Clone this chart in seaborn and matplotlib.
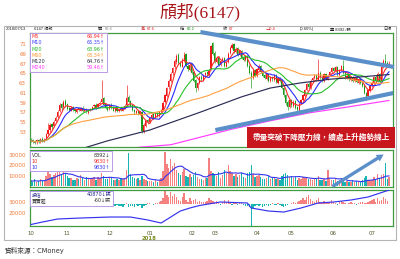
import numpy as np
import pandas as pd
import matplotlib
matplotlib.use('Agg')
import matplotlib.pyplot as plt
import seaborn as sns
from matplotlib.patches import Rectangle

sns.set_theme(style='white')
plt.rcParams['font.family'] = ['DejaVu Sans', 'Noto Sans CJK TC']

# ---------------- data ----------------
month_labels = ["10", "11", "12", "01", "02", "03", "04", "05", "06", "07"]
month_days = [19, 22, 21, 22, 12, 22, 18, 22, 20, 10]

open_ = [
    51.5, 51.3, 51.2, 50.9, 51.4, 51.0, 51.6, 51.1, 51.5, 52.6, 53.4, 54.6, 54.2, 55.2, 56.0, 57.2, 58.7, 58.2, 59.4,
    58.7, 57.9, 57.4, 58.1, 57.7, 57.1, 57.9, 57.4, 58.0, 57.2, 57.7, 56.9, 57.4, 57.7, 58.3, 58.6, 58.1, 58.7, 59.2, 59.9, 58.7, 58.2,
    57.7, 58.6, 58.1, 57.3, 57.9, 57.3, 57.7, 57.4, 57.9, 58.5, 60.2, 59.3, 58.5, 57.6, 56.9, 57.4, 56.7, 57.0, 53.0, 54.3, 55.4,
    55.1, 55.9, 56.6, 56.0, 56.9, 56.3, 57.1, 57.6, 59.1, 60.3, 62.2, 63.4, 65.0, 66.2, 67.3, 68.8, 67.4, 66.4, 67.6, 68.9, 66.6, 65.7,
    66.9, 65.2, 63.7, 62.1, 63.1, 64.3, 63.7, 64.6, 65.2, 64.7, 65.8, 71.2,
    69.2, 67.4, 68.4, 66.7, 67.6, 68.1, 66.4, 67.3, 69.2, 70.1, 70.9, 69.3, 70.1, 68.7, 69.6, 68.4, 67.7, 68.6, 66.6, 65.1, 64.0, 65.6,
    64.4, 65.7, 66.6, 65.3, 64.6, 63.9, 64.9, 63.4, 64.3, 63.7, 64.6, 63.1, 64.1, 63.6, 62.1, 60.6, 59.2, 58.1,
    59.6, 58.4, 59.3, 58.1, 57.4, 58.9, 59.6, 60.4, 61.6, 62.9, 62.1, 63.6, 64.1, 64.6, 63.7, 65.1, 64.3, 63.4, 64.9, 63.9, 64.6, 65.3,
    66.1, 65.4, 66.3, 64.7, 65.6, 66.6, 65.1, 64.1, 64.6, 63.7, 64.3, 63.4, 64.1, 63.1, 63.9, 63.1, 62.6, 60.9, 60.3, 61.4,
    62.6, 63.1, 64.3, 63.4, 64.9, 63.4, 66.3, 67.6, 67.1, 66.6,
]
close = [
    51.2, 51.0, 50.8, 51.3, 51.0, 51.5, 51.2, 51.4, 52.5, 53.5, 54.5, 54.0, 55.0, 55.8, 57.0, 58.5, 58.0, 59.2, 58.5,
    57.8, 57.5, 58.0, 57.6, 57.2, 57.8, 57.5, 57.9, 57.3, 57.6, 57.0, 57.5, 57.8, 58.2, 58.5, 58.0, 58.8, 59.0, 59.8, 58.6, 58.0, 57.6,
    58.5, 58.0, 57.4, 57.8, 57.2, 57.6, 57.5, 58.0, 58.4, 60.0, 59.2, 58.4, 57.5, 57.0, 57.3, 56.8, 57.2, 53.2, 54.5, 55.2, 55.0,
    55.8, 56.5, 55.9, 56.8, 56.2, 57.0, 57.5, 59.0, 60.5, 62.0, 63.5, 64.8, 66.0, 67.5, 68.5, 67.2, 66.5, 67.8, 68.8, 66.5, 65.8, 66.8,
    65.0, 63.5, 62.0, 63.0, 64.2, 63.8, 64.5, 65.0, 64.8, 65.5, 70.5, 69.0,
    67.5, 68.2, 66.8, 67.5, 68.0, 66.5, 67.2, 69.0, 70.2, 70.8, 69.5, 70.0, 68.8, 69.5, 68.2, 67.8, 68.5, 66.5, 65.0, 64.2, 65.5, 64.5,
    65.8, 66.5, 65.2, 64.5, 64.0, 64.8, 63.5, 64.2, 63.8, 64.5, 63.2, 64.0, 63.5, 62.0, 60.5, 59.0, 58.2, 59.5,
    58.5, 59.2, 58.0, 57.5, 58.8, 59.5, 60.5, 61.5, 62.8, 62.2, 63.5, 64.0, 64.5, 63.8, 65.0, 64.2, 63.5, 64.8, 64.0, 64.5, 65.2, 66.0,
    65.5, 66.2, 64.8, 65.5, 66.5, 65.0, 64.2, 64.5, 63.8, 64.2, 63.5, 64.0, 63.2, 63.8, 63.0, 62.5, 61.0, 60.2, 61.5, 62.5,
    63.0, 64.2, 63.5, 64.8, 63.3, 66.2, 67.5, 67.2, 66.8, 67.0,
]
high = [
    51.8, 51.6, 51.4, 51.6, 51.6, 51.8, 51.9, 51.7, 52.8, 54.8, 54.9, 54.9, 55.4, 56.2, 57.5, 59.0, 59.0, 59.6, 59.8,
    58.9, 58.2, 58.3, 58.4, 57.9, 58.0, 58.1, 58.1, 58.3, 57.9, 57.9, 57.7, 58.0, 58.4, 58.8, 58.9, 59.0, 59.3, 63.6, 60.1, 58.9, 58.4,
    58.8, 58.9, 58.3, 58.0, 58.1, 57.8, 57.9, 58.2, 58.7, 62.6, 60.5, 59.5, 58.7, 57.8, 57.5, 57.6, 57.4, 57.3, 54.8, 55.5, 55.7,
    56.0, 56.8, 56.8, 57.0, 57.1, 57.2, 57.7, 59.3, 60.8, 62.3, 63.8, 65.2, 66.4, 67.9, 69.0, 69.2, 67.6, 68.1, 69.4, 69.1, 66.9, 67.2,
    67.1, 65.5, 63.9, 63.3, 64.5, 64.6, 64.8, 65.3, 65.5, 65.8, 70.8, 71.5,
    69.5, 68.5, 68.6, 67.8, 68.3, 68.3, 67.5, 69.3, 70.6, 71.3, 71.2, 70.3, 70.4, 69.8, 69.8, 68.6, 68.8, 68.8, 66.9, 65.4, 65.8, 65.9,
    66.1, 66.9, 66.8, 65.5, 64.8, 65.1, 65.1, 64.4, 64.5, 64.8, 64.8, 64.3, 64.3, 63.8, 62.3, 60.8, 59.5, 59.8,
    59.8, 59.5, 59.5, 58.3, 59.1, 59.8, 60.8, 61.8, 63.1, 63.2, 63.8, 64.3, 64.8, 64.9, 68.0, 65.4, 64.5, 65.1, 65.1, 64.8, 65.5, 66.3,
    66.4, 66.5, 66.5, 65.8, 66.8, 67.7, 65.3, 64.8, 64.8, 64.5, 64.5, 64.2, 64.3, 64.0, 64.1, 63.3, 62.8, 61.2, 61.8, 62.8,
    63.4, 64.5, 64.6, 65.2, 65.1, 66.5, 68.0, 69.0, 67.5, 67.6,
]
low = [
    50.9, 50.7, 50.5, 50.6, 50.7, 50.8, 51.0, 50.9, 51.3, 52.3, 53.1, 53.6, 54.0, 55.0, 55.8, 57.0, 57.6, 58.0, 58.2,
    57.5, 57.2, 57.2, 57.4, 56.9, 56.9, 57.3, 57.2, 57.1, 57.0, 56.8, 56.6, 57.2, 57.5, 58.0, 57.8, 57.9, 58.5, 59.0, 58.4, 57.8, 57.3,
    57.5, 57.8, 57.2, 57.1, 57.0, 57.1, 57.3, 57.2, 57.7, 58.3, 59.0, 58.2, 57.3, 56.7, 56.7, 56.5, 56.5, 52.8, 52.8, 54.1, 54.7,
    54.9, 55.7, 55.7, 55.8, 56.0, 56.1, 56.9, 57.4, 58.9, 60.1, 61.9, 63.2, 64.7, 65.9, 67.0, 67.0, 66.2, 66.2, 67.4, 66.2, 65.4, 65.5,
    64.8, 63.2, 61.2, 61.6, 62.8, 63.4, 63.5, 64.3, 64.5, 64.5, 65.6, 68.7,
    67.2, 67.2, 66.5, 66.5, 67.4, 66.2, 66.2, 67.1, 69.0, 69.9, 69.2, 69.1, 68.5, 68.5, 68.0, 67.5, 67.5, 66.3, 64.8, 62.0, 63.8, 64.2,
    64.2, 65.5, 65.0, 64.2, 63.8, 63.7, 63.3, 63.2, 63.5, 63.5, 63.0, 62.9, 63.3, 61.8, 60.2, 58.6, 57.5, 57.9,
    58.2, 58.2, 57.8, 57.0, 57.2, 58.7, 59.4, 60.2, 61.4, 61.9, 61.9, 63.4, 63.9, 63.5, 63.5, 63.9, 63.2, 63.2, 63.8, 63.7, 64.4, 65.0,
    65.2, 65.2, 64.5, 64.4, 65.4, 64.8, 63.9, 63.9, 63.5, 63.5, 63.2, 63.2, 63.0, 62.9, 62.8, 62.2, 60.7, 59.6, 60.0, 61.2,
    62.3, 62.9, 63.2, 63.3, 63.0, 63.2, 66.0, 66.8, 66.5, 66.2,
]
volume = [
    5200, 4100, 6300, 3800, 4500, 7200, 5100, 4800, 9500, 13500, 12000, 8500, 11000, 12500, 14500, 13800, 11200, 14000, 12500,
    9500, 8200, 7600, 6100, 5800, 7400, 6900, 10500, 7300, 5900, 8800, 6500, 7100, 7800, 9200, 6200, 8400, 7600, 12800, 9400, 7200, 6800,
    8900, 7500, 6200, 5400, 6800, 5900, 7300, 6400, 8200, 15500, 32000, 11200, 8800, 7400, 6300, 7900, 6100, 9800, 7200, 5600, 4800,
    5200, 4600, 3900, 5400, 4200, 6100, 7800, 14500, 33000, 21000, 17500, 26500, 19000, 22500, 15500, 12800, 10200, 13500, 16200, 9800, 8600, 11400,
    9200, 10800, 13600, 8400, 7200, 6600, 5800, 7400, 8200, 27000, 14800, 12500,
    11800, 9600, 13200, 8200, 10400, 15800, 12200, 20000, 14200, 12600, 9800, 11500, 8900, 10200, 12400, 8600, 7800, 12200, 13600, 20000, 11400, 8800,
    9600, 10800, 8400, 7200, 6800, 8200, 9400, 6600, 7400, 8800, 7200, 6400, 5800, 9600, 11200, 12400, 10800, 8600,
    9400, 7600, 8800, 6200, 7400, 6800, 9200, 7800, 8600, 6400, 7200, 5800, 6600, 7400, 9800, 6200, 5400, 6800, 5200, 15500, 7400, 6200,
    5800, 6400, 4800, 5200, 7800, 4600, 3800, 4400, 3600, 4200, 5400, 3800, 4600, 3400, 4200, 5600, 7800, 9400, 6200, 5800,
    6200, 8400, 6000, 11500, 7600, 10200, 11400, 22000, 6700, 8392,
]
trust_net = [
    120, -80, 60, 150, -50, 90, 200, -120, 180, 260, 150, -90, 210, 300, 180, -60, 240, 120, -150,
    80, -120, 60, -90, 40, 110, -70, 150, -60, 90, -110, 50, 70, 120, 200, -80, 90, 150, 220, -140, -90, 60,
    -120, 80, -250, -400, -180, -520, -350, -600, -280, 150, -700, -450, -320, -560, -240, -380, -150, -900, -420, -200, 120,
    180, 90, -150, 220, 160, 350, 600, 1300, 2800, 1900, 1500, 2600, 1800, 2200, 1400, 900, 700, 1600, 2400, 800, 500, 1200,
    650, 900, 1100, 400, 600, 350, 500, 450, 700, 1300, 800, 600,
    400, 550, 300, -200, 350, 800, 450, 900, 300, -250, 200, 380, -300, 150, 260, -180, -350, -420, -600, -4800, -800, -500,
    -300, -450, -200, -600, -350, -150, -400, -250, 120, -300, -200, 180, -150, -500, -700, -400, -250, 100,
    200, 350, 150, 420, 600, 900, 1200, 800, 1500, 1900, 1100, 700, 500, 800, 1300, 400, 250, 600, 350, 200, 450, 800,
    500, 300, -150, 400, 700, 350, 200, -100, 250, 400, 150, 300, -200, 180, 350, 500, 250, 150, 400, 600,
    800, 1100, 500, 1200, 700, 900, 1400, 1000, 600, -60,
]
# holdings line (sampled read points): trading-day index and value
hold_idx = [0, 6, 14, 26, 41, 52, 61, 68, 73, 78, 83, 88, 99, 113, 115, 124, 132, 141, 150, 158, 167, 176, 187]
hold_val = [9550, 11800, 14550, 15450, 16350, 16350, 13650, 10900, 16350, 21800, 24550, 26800, 30000,
            29100, 24550, 21800, 20900, 24550, 29100, 30000, 31800, 34550, 40870]
ma120_idx = [0, 20, 40, 62, 88, 110, 125, 140, 156, 170, 187]
ma120_val = [46.5, 48.8, 51.2, 53.4, 57.0, 60.2, 62.0, 63.0, 63.8, 64.2, 64.76]
ma240_idx = [40, 57, 73, 87, 105, 125, 145, 165, 187]
ma240_val = [49.0, 49.9, 50.4, 51.8, 53.6, 55.3, 56.9, 58.1, 59.46]
# trend lines (day index, price) endpoints
trend_up = ([88.5, 189.5], [73.45, 66.3])
trend_dn = ([96.3, 189.5], [53.4, 61.0])

# ---------------- derived ----------------
n = len(close)
df = pd.DataFrame({'i': np.arange(n), 'o': open_, 'h': high, 'l': low, 'c': close, 'v': volume, 'net': trust_net})
for w in (5, 10, 20, 60):
    df[f'ma{w}'] = df['c'].rolling(w, min_periods=1).mean()
df['vma'] = df['v'].rolling(10, min_periods=1).mean()
month_idx = list(np.cumsum([0] + month_days[:-1]))

W, H = 400, 259
fig = plt.figure(figsize=(4, 2.59), dpi=100)
fig.patch.set_facecolor('white')

def ax_px(x0, y0, x1, y1):
    return fig.add_axes([x0 / W, 1 - y1 / H, (x1 - x0) / W, (y1 - y0) / H])

def fx(x):
    return x / W

def fy(y):
    return 1 - y / H

GREEN = '#3f9c3f'
UP, DN = '#f01818', '#1c9a1c'
ORANGE_T = '#f07a3a'
XL = (-0.7, 189.0)

def style(ax):
    ax.set_facecolor('white')
    for s in ax.spines.values():
        s.set_color(GREEN)
        s.set_linewidth(0.9)
    ax.set_xlim(*XL)
    ax.set_xticks([])
    ax.tick_params(axis='y', length=0, pad=2.5, labelsize=3.9, labelcolor=ORANGE_T)
    ax.grid(False)

# ---- main price panel ----
ax = ax_px(29.5, 33, 393, 147)
style(ax)
ax.set_ylim(49.94, 73.25)
ax.set_yticks(list(range(53, 72, 2)))
cols = np.where(df['c'] >= df['o'], UP, DN)
ax.vlines(df['i'], df['l'], df['h'], colors=cols, lw=0.45, zorder=2)
ax.bar(df['i'], np.maximum((df['c'] - df['o']).abs(), 0.08), bottom=np.minimum(df['o'], df['c']),
       width=0.62, color=cols, linewidth=0, zorder=2)
ma_cols = {'ma5': '#ff2a2a', 'ma10': '#2a2aff', 'ma20': '#28c028', 'ma60': '#ffa040'}
for k, cc in ma_cols.items():
    sns.lineplot(x=df['i'], y=df[k], ax=ax, color=cc, lw=0.8, legend=False, zorder=3)
sns.lineplot(x=ma120_idx, y=ma120_val, ax=ax, color='#2b2b55', lw=0.85, legend=False, zorder=3)
sns.lineplot(x=ma240_idx, y=ma240_val, ax=ax, color='#ff3cff', lw=0.85, legend=False, zorder=3)
ax.set_xlabel('')
ax.set_ylabel('')
ax.plot(*trend_up, color='#5b8fc9', lw=3.0, solid_capstyle='butt', zorder=4, clip_on=False)
ax.plot(*trend_dn, color='#5b8fc9', lw=3.0, solid_capstyle='butt', zorder=4)

# ---- volume panel ----
ax2 = ax_px(29.5, 150, 393, 187)
style(ax2)
ax2.set_ylim(-1000, 35000)
ax2.set_yticks([10000, 20000, 30000])
vcols = np.where(df['c'] >= df['o'], '#f58080', '#18b4b4')
ax2.bar(df['i'], df['v'], width=0.72, color=vcols, linewidth=0)
sns.lineplot(x=df['i'], y=df['vma'], ax=ax2, color='#3434f0', lw=0.8, legend=False)
ax2.set_xlabel('')
ax2.set_ylabel('')

# ---- institutional panel ----
ax3 = ax_px(29.5, 190, 393, 226)
style(ax3)
ax3.set_ylim(-4700, 3000)
ax3.set_yticks([])
ncols = np.where(df['net'] >= 0, '#f58080', '#18b4b4')
ax3.bar(df['i'], df['net'], width=0.72, color=ncols, linewidth=0)
ax3b = ax3.twinx()
ax3b.set_ylim(8200, 40900)
ax3b.set_xlim(*XL)
sns.lineplot(x=hold_idx, y=hold_val, ax=ax3b, color='#3434f0', lw=0.85, legend=False)
ax3b.set_ylabel('')
ax3b.set_yticks([20000, 30000])
ax3b.yaxis.set_ticks_position('left')
ax3b.yaxis.set_label_position('left')
ax3b.tick_params(axis='y', length=0, pad=2.5, labelsize=3.9, labelcolor=ORANGE_T)
for s in ax3b.spines.values():
    s.set_visible(False)
ax3b.grid(False)
ax3.set_xticks(month_idx)
ax3.set_xticklabels(month_labels)
ax3.tick_params(axis='x', length=2, width=0.5, color='#666666', pad=1.6, labelsize=3.9, labelcolor='#4e5a2c')
ax3.set_xlabel('')
fig.text(fx(31 + 1.91 * 62), fy(238), '2018', fontsize=3.9, color='#7a8c24', ha='center', va='center', weight='bold')

# ---- outer frame ----
fig.patches.append(Rectangle((fx(4), fy(240)), fx(392), 214 / H, transform=fig.transFigure,
                             fill=False, edgecolor='#b4b4b4', lw=0.8, zorder=1))

# ---- title and source ----
fig.text(0.5, fy(12), '頎邦(6147)', fontsize=12.5, color='#a8161c', ha='center', va='center',
         family=['Liberation Serif', 'Noto Sans CJK TC'])
fig.text(fx(5), fy(250.5), '資料來源：CMoney', fontsize=4.8, color='#333333', ha='left', va='center')

# ---- header row ----
hy = fy(29.4)
hs = 3.0
hfam = ['Liberation Sans', 'Noto Sans CJK TC']
header = [
    (6, '2018/07/13', '#222222'), (34, '6147 頎邦', '#222222'),
    (98, '開', '#222222'), (105, '66.6', '#888888'),
    (141, '高', '#d02020'), (147, '67.6', '#e02020'),
    (180, '低', '#222222'), (187, '66.2', '#109010'),
    (223, '收', '#222222'), (229, '67', '#e02020'),
    (266, '△0.4', '#e02020'), (300, '(0.60%)', '#222222'),
    (330, '量 8392↓張', '#222222'), (383, '日線', '#222222'),
]
for x, t, c in header:
    fig.text(fx(x), hy, t, fontsize=hs, color=c, ha='left', va='center', family=hfam)

# ---- legend boxes ----
def legend_box(x0, y0, x1, y1, rows, xr):
    fig.patches.append(Rectangle((fx(x0), fy(y1)), (x1 - x0) / W, (y1 - y0) / H, transform=fig.transFigure,
                                 facecolor='white', edgecolor='#b89ae6', lw=0.7, zorder=5))
    for y, lab, val, c in rows:
        fig.text(fx(x0 + 1.8), fy(y), lab, fontsize=3.5, color=c, ha='left', va='center', zorder=6)
        fig.text(fx(xr), fy(y), val, fontsize=3.5, color=c, ha='right', va='center', zorder=6)

legend_box(30, 33.5, 107, 72, [
    (36.6, 'M5', '66.94↑', '#ff2a2a'), (42.8, 'M10', '65.35↑', '#3a3aff'),
    (49.0, 'M20', '63.96↑', '#28b828'), (55.2, 'M60', '63.34↑', '#ff9a30'),
    (61.4, 'M120', '64.76↑', '#333344'), (67.6, 'M240', '59.46↑', '#ff3cff')], 105)
legend_box(30, 151, 112, 171, [
    (155.2, 'VOL', '8392↓', '#333333'), (161.3, '10', '9830↑', '#f03030'),
    (167.4, '10', '9830↑', '#3434f0')], 110)
legend_box(30, 190.5, 113, 206, [
    (194.3, '投信', '40870↓張', '#2a2a90'), (201.0, '買賣超', '-60↓張', '#333333')], 111)

# ---- annotations ----
fig.patches.append(Rectangle((fx(247), fy(148)), (395 - 247) / W, 21 / H, transform=fig.transFigure,
                             facecolor='#c8161e', edgecolor='none', zorder=7))
fig.text(fx(321), fy(137.8), '帶量突破下降壓力線，續處上升趨勢線上', fontsize=5.5, color='white',
         weight='bold', ha='center', va='center', zorder=8, family=['Noto Sans CJK TC'])
fig.add_artist(matplotlib.patches.FancyArrowPatch(
    (fx(330), fy(188)), (fx(386), fy(153)), transform=fig.transFigure,
    arrowstyle='simple,head_length=5,head_width=5.5,tail_width=2.4', color='#5b8fc9', lw=0, zorder=9))

fig.savefig('out.png', dpi=100, facecolor='white')
